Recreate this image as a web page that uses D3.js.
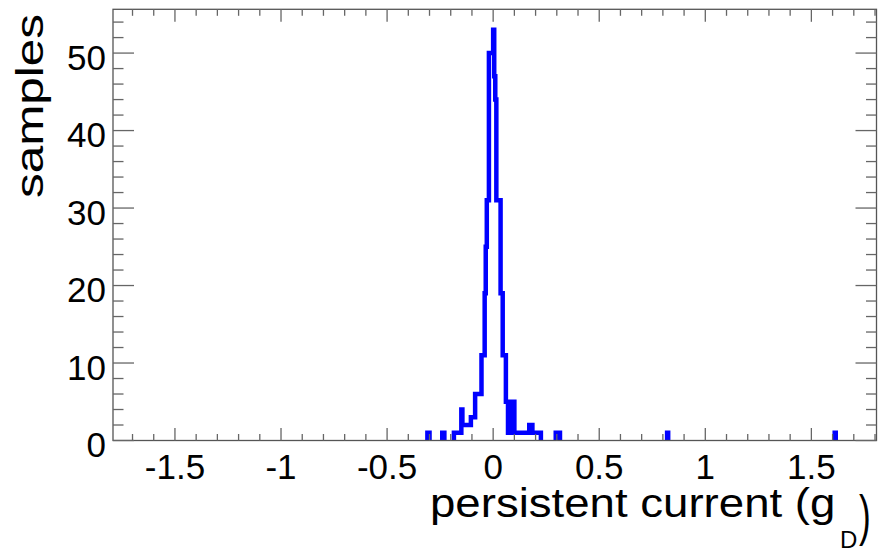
<!DOCTYPE html>
<html>
<head>
<meta charset="utf-8">
<script src="https://cdn.jsdelivr.net/npm/d3@7"></script>
<style>
  body { margin: 0; background: #fff; }
  text { font-family: "Liberation Sans", Arial, sans-serif; fill: #000; }
</style>
</head>
<body>
<div id="chart"></div>
<script>
// step histogram: segment i runs from binEdges[i] to binEdges[i+1]
var binEdges = [-0.310, -0.300, -0.240, -0.230, -0.185, -0.150, -0.145, -0.105, -0.085, -0.055,
                -0.040, -0.035, -0.030, -0.020, 0.000, 0.005, 0.010, 0.015, 0.035, 0.045,
                0.060, 0.070, 0.090, 0.100, 0.170, 0.185, 0.225, 0.295, 0.315, 0.820,
                0.825, 1.610, 1.615];
var binCounts = [1, 0, 1, 0, 1, 4, 2, 3, 6, 11,
                 19, 25, 31, 50, 53, 47, 44, 31, 19, 11,
                 5, 1, 5, 1, 2, 1, 0, 1, 0, 1,
                 0, 1];

var xMajorTicks = [-1.5, -1, -0.5, 0, 0.5, 1, 1.5];
var xTickLabels = ["-1.5", "-1", "-0.5", "0", "0.5", "1", "1.5"];
var yMajorTicks = [0, 10, 20, 30, 40, 50];
var xTitle = "persistent current (g";
var xTitleSub = "D";
var yTitle = "samples";

var W = 878, H = 553;
var frame = {left: 113, right: 876.5, top: 9.3, bottom: 440.5};

var x = d3.scaleLinear().domain([-1.792, 1.807]).range([frame.left, frame.right]);
var y = d3.scaleLinear().domain([0, 55.65]).range([frame.bottom, frame.top]);

var svg = d3.select("#chart").append("svg")
    .attr("width", W)
    .attr("height", H);

svg.append("clipPath").attr("id", "plotclip")
  .append("rect")
    .attr("x", frame.left).attr("y", frame.top)
    .attr("width", frame.right - frame.left)
    .attr("height", frame.bottom - frame.top);

// split into runs of non-empty segments, each drawn as its own step outline
var runs = [], cur = null;
for (var i = 0; i < binCounts.length; i++) {
  if (binCounts[i] > 0) {
    if (!cur) { cur = []; runs.push(cur); }
    cur.push({x0: binEdges[i], x1: binEdges[i + 1], n: binCounts[i]});
  } else {
    cur = null;
  }
}

function stepPath(run) {
  var p = d3.path();
  p.moveTo(x(run[0].x0), y(0));
  run.forEach(function(b) {
    p.lineTo(x(b.x0), y(b.n));
    p.lineTo(x(b.x1), y(b.n));
  });
  p.lineTo(x(run[run.length - 1].x1), y(0));
  return p.toString();
}

svg.append("g")
    .attr("clip-path", "url(#plotclip)")
  .selectAll("path")
  .data(runs)
  .enter().append("path")
    .attr("d", stepPath)
    .attr("fill", "none")
    .attr("stroke", "#0000ff")
    .attr("stroke-width", 4.5)
    .attr("stroke-linejoin", "miter");

// frame
svg.append("rect")
    .attr("x", frame.left).attr("y", frame.top)
    .attr("width", frame.right - frame.left)
    .attr("height", frame.bottom - frame.top)
    .attr("fill", "none")
    .attr("stroke", "#555")
    .attr("stroke-width", 1.3);

var tickColor = "#666";

// x ticks, bottom and top, all inside the frame
var xMinor = d3.range(-17, 19).map(function(d) { return d / 10; });
var xt = svg.append("g").attr("stroke", tickColor).attr("stroke-width", 1.3);
xMinor.forEach(function(v) {
  var major = xMajorTicks.indexOf(v) >= 0;
  var len = major ? 12.5 : 6.5;
  xt.append("line").attr("x1", x(v)).attr("x2", x(v))
    .attr("y1", frame.bottom).attr("y2", frame.bottom - len);
  xt.append("line").attr("x1", x(v)).attr("x2", x(v))
    .attr("y1", frame.top).attr("y2", frame.top + len);
});

// y ticks, left and right
var yMinor = d3.range(0, 56, 2);
var yt = svg.append("g").attr("stroke", tickColor).attr("stroke-width", 1.3);
yMinor.forEach(function(v) {
  var major = yMajorTicks.indexOf(v) >= 0;
  var len = major ? 21 : 10.5;
  yt.append("line").attr("y1", y(v)).attr("y2", y(v))
    .attr("x1", frame.left).attr("x2", frame.left + len);
  yt.append("line").attr("y1", y(v)).attr("y2", y(v))
    .attr("x1", frame.right).attr("x2", frame.right - len);
});

// tick labels
svg.append("g").selectAll("text")
  .data(xMajorTicks)
  .enter().append("text")
    .attr("x", function(d) { return x(d); })
    .attr("y", 479)
    .attr("text-anchor", "middle")
    .style("font-size", "35px")
    .text(function(d, i) { return xTickLabels[i]; });

svg.append("g").selectAll("text")
  .data(yMajorTicks)
  .enter().append("text")
    .attr("x", 106)
    .attr("y", function(d) { return y(d) + 16.5; })
    .attr("text-anchor", "end")
    .style("font-size", "35px")
    .text(function(d) { return d; });

// axis titles (the reference glyphs are drawn wider than the font, hence the scale)
svg.append("text")
    .attr("transform", "translate(430, 517) scale(1.14, 1)")
    .style("font-size", "40px")
    .text(xTitle);

svg.append("text")
    .attr("x", 840)
    .attr("y", 548)
    .style("font-size", "24px")
    .text(xTitleSub);

svg.append("text")
    .attr("transform", "translate(859, 534) scale(0.8, 1.25)")
    .style("font-size", "44px")
    .text(")");

svg.append("text")
    .attr("transform", "translate(43, 198) rotate(-90) scale(1.3, 1)")
    .style("font-size", "38px")
    .text(yTitle);
</script>
</body>
</html>
